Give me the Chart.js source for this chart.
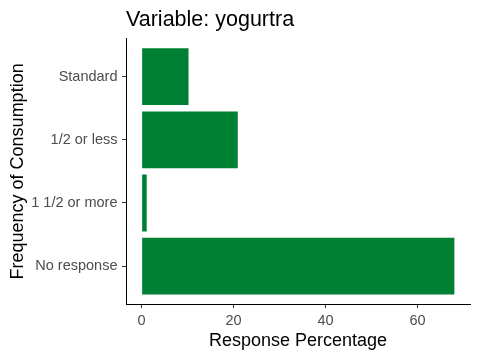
<!DOCTYPE html>
<html>
<head>
<meta charset="utf-8">
<script src="https://cdn.jsdelivr.net/npm/chart.js@4"></script>
<style>
  html, body { margin: 0; padding: 0; background: #fff; }
  canvas { display: block; }
</style>
</head>
<body>
<canvas id="chart" width="480" height="360"></canvas>
<script>
// categories, top to bottom
const categories = ['Standard', '1/2 or less', '1 1/2 or more', 'No response'];
const percentages = [10.2, 20.9, 1.1, 68.0];
const xTicks = [0, 20, 40, 60];

const fontFamily = '"Liberation Sans", Arial, sans-serif';
const tickGrey = '#4d4d4d';

new Chart(document.getElementById('chart'), {
    type: 'bar',
    data: {
        datasets: [{
            data: percentages.map((v, i) => ({ x: v, y: i })),
            backgroundColor: '#008033',
            borderWidth: 0,
            categoryPercentage: 1,
            barPercentage: 0.9
        }]
    },
    options: {
        indexAxis: 'y',
        responsive: false,
        animation: false,
        layout: { padding: { top: 0, right: 10, bottom: 0, left: 0 } },
        plugins: {
            legend: { display: false },
            tooltip: { enabled: false },
            title: {
                display: true,
                text: 'Variable: yogurtra',
                align: 'start',
                fullSize: false,
                color: '#000',
                font: { family: fontFamily, size: 21.5, weight: 'normal' },
                padding: { top: 7, bottom: 6 }
            }
        },
        scales: {
            x: {
                type: 'linear',
                min: -3.4,
                max: 71.4,
                afterFit: (scale) => { scale.height = 56; },
                afterBuildTicks: (scale) => { scale.ticks = xTicks.map(v => ({ value: v })); },
                grid: { drawOnChartArea: false, drawTicks: true, tickLength: 4, tickColor: '#333' },
                border: { display: true, color: '#000', width: 1 },
                ticks: { color: tickGrey, padding: 4, font: { family: fontFamily, size: 14.5 } },
                title: {
                    display: true,
                    text: 'Response Percentage',
                    color: '#000',
                    font: { family: fontFamily, size: 18 },
                    padding: { top: 0, bottom: 8 }
                }
            },
            y: {
                type: 'linear',
                reverse: true,
                offset: false,
                min: -0.6,
                max: 3.6,
                afterFit: (scale) => { scale.width = 126; },
                afterBuildTicks: (scale) => { scale.ticks = categories.map((c, i) => ({ value: i })); },
                grid: { offset: false, drawOnChartArea: false, drawTicks: true, tickLength: 4, tickColor: '#333' },
                border: { display: true, color: '#000', width: 1 },
                ticks: {
                    color: tickGrey,
                    padding: 4.5,
                    font: { family: fontFamily, size: 14.5 },
                    callback: (v) => categories[v]
                },
                title: {
                    display: true,
                    text: 'Frequency of Consumption',
                    color: '#000',
                    font: { family: fontFamily, size: 18 },
                    padding: { top: 7, bottom: 0 }
                }
            }
        }
    }
});
</script>
</body>
</html>
